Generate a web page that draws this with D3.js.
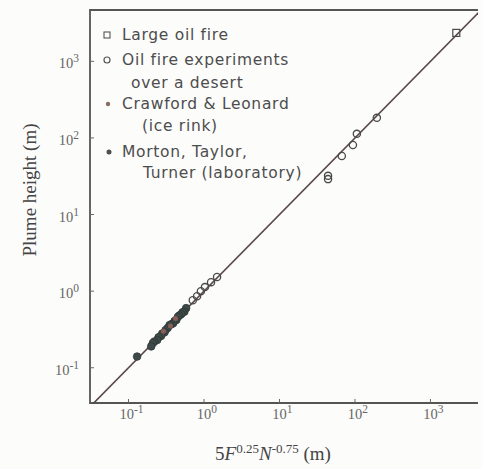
<!DOCTYPE html>
<html>
<head>
<meta charset="utf-8">
<script src="https://cdn.jsdelivr.net/npm/d3@7"></script>
<style>
  body { margin: 0; background: #fcfcfb; }
  svg { display: block; }
</style>
</head>
<body>
<svg id="chart"></svg>
<script>
// Chart size
const width = 482;
const height = 469;

// Data (x = 5F^0.25 N^-0.75, y = plume height, both in m)
const largeFire = [[2200, 2350]];
const desertFire = [
    [195, 183], [106, 113], [94, 81], [67, 58], [44, 32], [44, 29],
    [1.49, 1.53], [1.24, 1.31], [1.03, 1.13], [0.91, 1.0], [0.81, 0.86], [0.71, 0.76]
];
const iceRink = [[0.42, 0.44], [0.36, 0.35], [0.29, 0.30]];
const laboratory = [
    [0.58, 0.60], [0.55, 0.54], [0.52, 0.53], [0.50, 0.50], [0.47, 0.48],
    [0.45, 0.46], [0.43, 0.42], [0.41, 0.41], [0.39, 0.38], [0.37, 0.37],
    [0.35, 0.36], [0.33, 0.33], [0.31, 0.31], [0.30, 0.29], [0.28, 0.28],
    [0.27, 0.26], [0.25, 0.25], [0.24, 0.23], [0.22, 0.22], [0.21, 0.21],
    [0.20, 0.19], [0.13, 0.14]
];
const tickExps = [-1, 0, 1, 2, 3];
const legendRows = [
    { marker: "square", text: "Large oil fire", dx: 0 },
    { marker: "circle", text: "Oil fire experiments", dx: 0 },
    { marker: null, text: "over a desert", dx: 9 },
    { marker: "dotRed", text: "Crawford & Leonard", dx: 0 },
    { marker: null, text: "(ice rink)", dx: 20 },
    { marker: "dot", text: "Morton, Taylor,", dx: 0 },
    { marker: null, text: "Turner (laboratory)", dx: 21 }
];
const legendY = [40, 65, 88, 109, 131, 157, 178];

const svg = d3.select("#chart")
    .attr("width", width)
    .attr("height", height);

const x = d3.scaleLog()
    .domain([Math.pow(10, -1.51), Math.pow(10, 3.63)])
    .range([90, 478]);

const y = d3.scaleLog()
    .domain([Math.pow(10, -1.46), Math.pow(10, 3.67)])
    .range([403, 10]);

// clip for the plot area
svg.append("clipPath").attr("id", "clip")
    .append("rect")
    .attr("x", 90).attr("y", 10)
    .attr("width", 388).attr("height", 393);

// frame (left, top, bottom)
svg.append("path")
    .attr("d", "M478,10 H90 V403 H478")
    .attr("fill", "none")
    .attr("stroke", "#555")
    .attr("stroke-width", 1.8);

// ticks
svg.selectAll(".xtick")
    .data(tickExps)
    .enter()
    .append("line")
    .attr("x1", d => x(Math.pow(10, d)))
    .attr("x2", d => x(Math.pow(10, d)))
    .attr("y1", 403)
    .attr("y2", 399)
    .attr("stroke", "#666");

svg.selectAll(".ytick")
    .data(tickExps)
    .enter()
    .append("line")
    .attr("y1", d => y(Math.pow(10, d)))
    .attr("y2", d => y(Math.pow(10, d)))
    .attr("x1", 90)
    .attr("x2", 94)
    .attr("stroke", "#666");

// tick labels: 10 with superscript exponent
function powLabel(sel) {
    sel.append("tspan").text("10");
    sel.append("tspan")
        .attr("dy", -6)
        .attr("font-size", 11.5)
        .text(d => d < 0 ? "-" + Math.abs(d) : d);
}

svg.selectAll(".xlabel")
    .data(tickExps)
    .enter()
    .append("text")
    .attr("x", d => x(Math.pow(10, d)) + 3)
    .attr("y", 419)
    .attr("text-anchor", "middle")
    .attr("font-family", "Liberation Serif, serif")
    .attr("font-size", 14.5)
    .attr("fill", "#666")
    .call(powLabel);

svg.selectAll(".ylabel")
    .data(tickExps)
    .enter()
    .append("text")
    .attr("x", 79)
    .attr("y", d => y(Math.pow(10, d)) + 7)
    .attr("text-anchor", "end")
    .attr("font-family", "Liberation Serif, serif")
    .attr("font-size", 14.5)
    .attr("fill", "#666")
    .call(powLabel);

// axis titles
svg.append("text")
    .attr("transform", "translate(36,190) rotate(-90)")
    .attr("text-anchor", "middle")
    .attr("font-family", "Liberation Serif, serif")
    .attr("font-size", 19)
    .attr("fill", "#444")
    .text("Plume height (m)");

const xt = svg.append("text")
    .attr("x", 273)
    .attr("y", 460)
    .attr("text-anchor", "middle")
    .attr("font-family", "Liberation Serif, serif")
    .attr("font-size", 19)
    .attr("fill", "#444");
xt.append("tspan").text("5");
xt.append("tspan").attr("font-style", "italic").text("F");
xt.append("tspan").attr("dy", -7).attr("font-size", 13).text("0.25");
xt.append("tspan").attr("dy", 7).attr("font-style", "italic").text("N");
xt.append("tspan").attr("dy", -7).attr("font-size", 13).text("-0.75");
xt.append("tspan").attr("dy", 7).text(" (m)");

// 1:1 line
const diag = [Math.pow(10, -1.6), Math.pow(10, 3.8)];
svg.append("line")
    .attr("clip-path", "url(#clip)")
    .attr("x1", x(diag[0]))
    .attr("y1", y(diag[0]))
    .attr("x2", x(diag[1]))
    .attr("y2", y(diag[1]))
    .attr("stroke", "#5a4848")
    .attr("stroke-width", 1.6);

// points
svg.selectAll(".lab")
    .data(laboratory)
    .enter()
    .append("circle")
    .attr("cx", d => x(d[0]))
    .attr("cy", d => y(d[1]))
    .attr("r", 3.8)
    .attr("fill", "#3d4a48")
    .attr("stroke", "#2e3836")
    .attr("stroke-width", 0.8);

svg.selectAll(".ice")
    .data(iceRink)
    .enter()
    .append("circle")
    .attr("cx", d => x(d[0]))
    .attr("cy", d => y(d[1]))
    .attr("r", 2.5)
    .attr("fill", "#8a5e56");

svg.selectAll(".desert")
    .data(desertFire)
    .enter()
    .append("circle")
    .attr("cx", d => x(d[0]))
    .attr("cy", d => y(d[1]))
    .attr("r", 3.6)
    .attr("fill", "none")
    .attr("stroke", "#4a4a4a")
    .attr("stroke-width", 1.3);

svg.selectAll(".large")
    .data(largeFire)
    .enter()
    .append("rect")
    .attr("x", d => x(d[0]) - 3.5)
    .attr("y", d => y(d[1]) - 3.5)
    .attr("width", 7)
    .attr("height", 7)
    .attr("fill", "none")
    .attr("stroke", "#4a4a4a")
    .attr("stroke-width", 1.2);

// legend
const legend = svg.append("g");

legendRows.forEach(function (row, i) {
    const cy = legendY[i] - 5;
    if (row.marker === "square") {
        legend.append("rect")
            .attr("x", 104).attr("y", cy - 3)
            .attr("width", 6).attr("height", 6)
            .attr("fill", "none").attr("stroke", "#555").attr("stroke-width", 1.1);
    } else if (row.marker === "circle") {
        legend.append("circle")
            .attr("cx", 107).attr("cy", cy).attr("r", 3)
            .attr("fill", "none").attr("stroke", "#555").attr("stroke-width", 1.2);
    } else if (row.marker === "dotRed") {
        legend.append("circle")
            .attr("cx", 108).attr("cy", cy).attr("r", 2.2)
            .attr("fill", "#8a6a64");
    } else if (row.marker === "dot") {
        legend.append("circle")
            .attr("cx", 109).attr("cy", cy).attr("r", 2.5)
            .attr("fill", "#4a5250");
    }
    legend.append("text")
        .attr("x", 122 + row.dx)
        .attr("y", legendY[i])
        .attr("font-family", "DejaVu Sans, sans-serif")
        .attr("font-size", 15.5)
        .attr("letter-spacing", 0.7)
        .attr("fill", "#4d4d4d")
        .text(row.text);
});
</script>
</body>
</html>
